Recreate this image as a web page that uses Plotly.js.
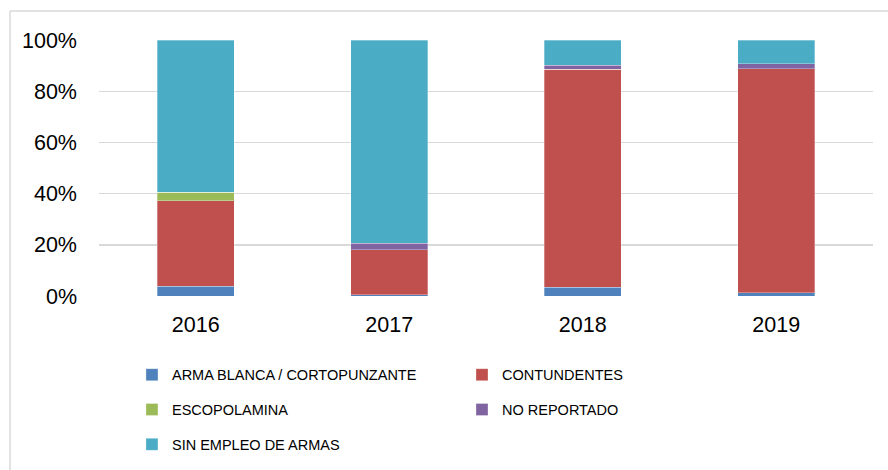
<!DOCTYPE html>
<html>
<head>
<meta charset="utf-8">
<script src="https://cdn.plot.ly/plotly-3.0.1.min.js"></script>
<style>
html,body{margin:0;padding:0;background:#fff;}
#chart{width:888px;height:470px;}
</style>
</head>
<body>
<div id="chart"></div>
<script>
var years = ['2016', '2017', '2018', '2019'];
var seriesNames = ['ARMA BLANCA / CORTOPUNZANTE', 'CONTUNDENTES', 'ESCOPOLAMINA', 'NO REPORTADO', 'SIN EMPLEO DE ARMAS'];
var armaBlanca = [3.9, 0.4, 3.5, 1.3];
var contundentes = [33.3, 17.6, 85.0, 87.4];
var escopolamina = [3.3, 0, 0, 0];
var noReportado = [0, 2.6, 1.6, 2.0];
var sinEmpleo = [59.5, 79.4, 9.9, 9.3];
var yTicks = [0, 20, 40, 60, 80, 100];
var yTickLabels = ['0%', '20%', '40%', '60%', '80%', '100%'];

var colors = ['#4F81BD', '#C0504D', '#9BBB59', '#8064A2', '#4BACC6'];
var values = [armaBlanca, contundentes, escopolamina, noReportado, sinEmpleo];
var legendFor = ['legend', 'legend2', 'legend', 'legend2', 'legend'];
var FONT = 'Liberation Sans Narrow, Arial Narrow, Liberation Sans, Arial, sans-serif';

var traces = values.map(function (v, i) {
  return {
    type: 'bar',
    name: seriesNames[i],
    x: years,
    y: v,
    legend: legendFor[i],
    legendgroup: 'g' + i,
    marker: {color: colors[i], line: {color: 'rgba(255,255,255,0.5)', width: 0.6}},
    hoverinfo: 'name+y'
  };
});

var layout = {
  width: 888,
  height: 470,
  margin: {l: 99, r: 15, t: 40, b: 174, autoexpand: false},
  paper_bgcolor: '#ffffff',
  plot_bgcolor: '#ffffff',
  barmode: 'stack',
  bargap: 0.6,
  font: {family: FONT, color: '#000000'},
  xaxis: {
    type: 'category',
    showgrid: false,
    zeroline: false,
    showline: false,
    ticks: '',
    automargin: false,
    ticklabelstandoff: 13,
    tickfont: {family: FONT, size: 21.5, color: '#000000'}
  },
  yaxis: {
    range: [0, 100],
    tickvals: yTicks,
    ticktext: yTickLabels,
    showgrid: true,
    gridcolor: '#D9D9D9',
    gridwidth: 1.4,
    zeroline: false,
    showline: false,
    ticks: '',
    automargin: false,
    ticklabelstandoff: 21,
    tickfont: {family: FONT, size: 21.5, color: '#000000'}
  },
  legend: {
    orientation: 'v',
    x: 0.0426, xanchor: 'left',
    y: -0.245, yanchor: 'top',
    traceorder: 'grouped',
    tracegroupgap: 13,
    font: {family: FONT, size: 14.5, color: '#000000'},
    bgcolor: 'rgba(0,0,0,0)',
    borderwidth: 0
  },
  legend2: {
    orientation: 'v',
    x: 0.469, xanchor: 'left',
    y: -0.245, yanchor: 'top',
    traceorder: 'grouped',
    tracegroupgap: 13,
    font: {family: FONT, size: 14.5, color: '#000000'},
    bgcolor: 'rgba(0,0,0,0)',
    borderwidth: 0
  },
  shapes: [
    {type: 'line', xref: 'paper', yref: 'paper', x0: -0.115, x1: 1.03, y0: 1.113, y1: 1.113,
     line: {color: '#D9D9D9', width: 1.5}},
    {type: 'line', xref: 'paper', yref: 'paper', x0: -0.115, x1: -0.115, y0: 1.113, y1: -0.7,
     line: {color: '#D9D9D9', width: 1.5}}
  ]
};

Plotly.newPlot('chart', traces, layout, {displayModeBar: false, staticPlot: true});
</script>
</body>
</html>
